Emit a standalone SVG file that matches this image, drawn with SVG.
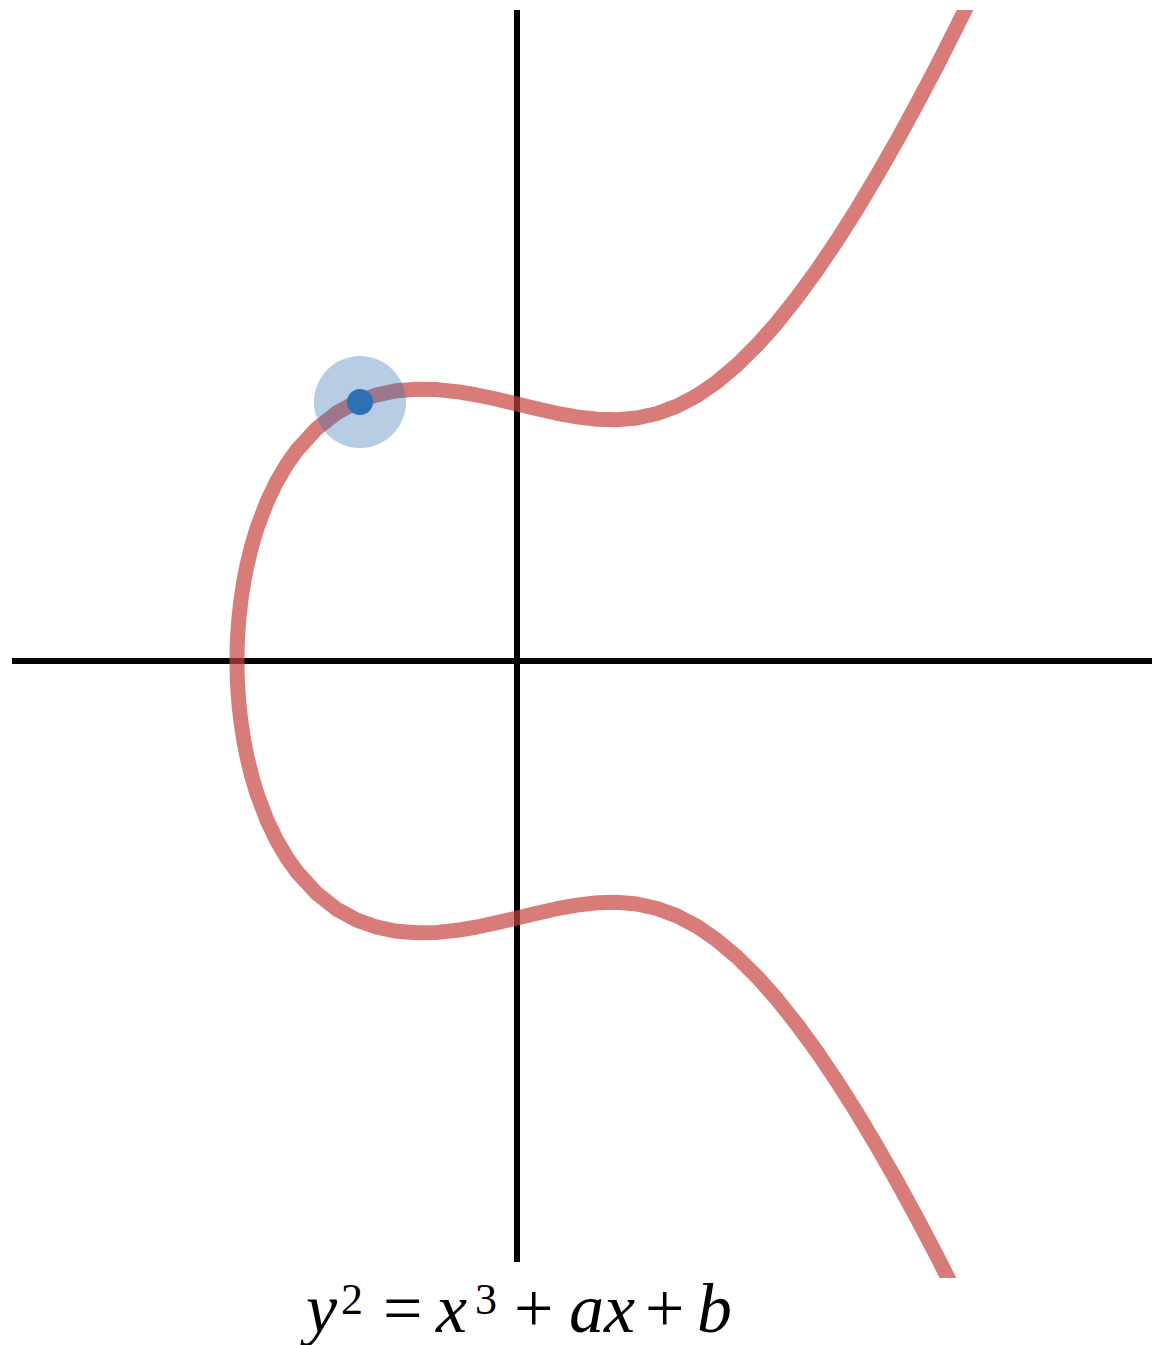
<svg xmlns="http://www.w3.org/2000/svg" width="1152" height="1345" viewBox="0 0 1152 1345">
<style>
.axis{stroke:#000;stroke-width:6;fill:none}
.curve{stroke:#c74440;stroke-opacity:0.7;stroke-width:15;fill:none;stroke-linejoin:round}
.eq{font-family:"Liberation Serif",serif;font-size:70px;fill:#000}
.it{font-style:italic}
.sup{font-size:44px}
</style>
<defs>
<clipPath id="plot"><rect x="0" y="10" width="1152" height="1268"/></clipPath>
</defs>
<rect width="1152" height="1345" fill="#fff"/>
<g id="axes">
<line id="x-axis" class="axis" x1="12" y1="661" x2="1152" y2="661"/>
<line id="y-axis" class="axis" x1="517" y1="10" x2="517" y2="1262"/>
</g>
<g id="curve" clip-path="url(#plot)">
<path class="curve" d="M977,-14.4 L957,26.3 L937,65.8 L917,103.8 L897,140.5 L877,175.5 L857,208.9 L837,240.5 L817,270.1 L797,297.5 L777,322.7 L757,345.2 L737,365 L717,381.8 L697,395.6 L677,406.1 L657,413.5 L637,418 L617,419.8 L597,419.2 L577,416.9 L557,413.3 L537,408.8 L517,404 L497,399.3 L477,395 L457,391.7 L437,389.6 L417,389.2 L397,390.7 L377,394.8 L357,401.9 L337,412.7 L317,428.3 L297,450.1 L287,464.1 L277,481.1 L267,501.8 L257,528.2 L252,544.8 L247,565.2 L244,580.3 L241,599.6 L239,617.4 L238,630.1 L237.2,645 L237,661 L237.2,677 L238,691.9 L239,704.6 L241,722.4 L244,741.7 L247,756.8 L252,777.2 L257,793.8 L267,820.2 L277,840.9 L287,857.9 L297,871.9 L317,893.7 L337,909.3 L357,920.1 L377,927.2 L397,931.3 L417,932.8 L437,932.4 L457,930.3 L477,927 L497,922.7 L517,918 L537,913.2 L557,908.7 L577,905.1 L597,902.8 L617,902.2 L637,904 L657,908.5 L677,915.9 L697,926.4 L717,940.2 L737,957 L757,976.8 L777,999.3 L797,1024.5 L817,1051.9 L837,1081.5 L857,1113.1 L877,1146.5 L897,1181.5 L917,1218.2 L937,1256.2 L957,1295.7 L977,1336.4"/>
</g>
<g id="point">
<circle cx="360" cy="402" r="46" fill="#2d70b3" fill-opacity="0.35"/>
<circle cx="360" cy="402" r="13" fill="#2d70b3"/>
</g>
<g id="label">
<text class="eq" y="1332"><tspan class="it" x="306">y</tspan><tspan class="sup" x="341" y="1314">2</tspan><tspan x="383" y="1332">=</tspan><tspan class="it" x="436">x</tspan><tspan class="sup" x="475" y="1314">3</tspan><tspan x="514" y="1332">+</tspan><tspan class="it" x="569">a</tspan><tspan class="it" x="604">x</tspan><tspan x="645">+</tspan><tspan class="it" x="697">b</tspan></text>
</g>
</svg>
